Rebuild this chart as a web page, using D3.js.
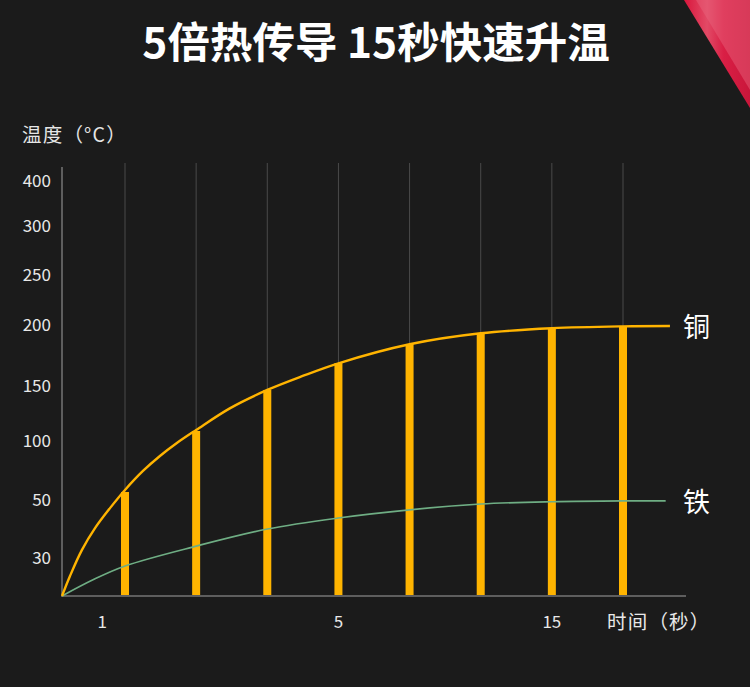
<!DOCTYPE html>
<html><head><meta charset="utf-8">
<script src="https://cdn.jsdelivr.net/npm/d3@7/dist/d3.min.js"></script>
<style>html,body{margin:0;padding:0;background:#1b1b1b;}svg{display:block;}</style>
</head><body>
<script>
// ---- data ----
const title = "5倍热传导 15秒快速升温";
const yTickValues = [30, 50, 100, 150, 200, 250, 300, 400];
const yTickPixelsRef = [558, 500, 441, 386, 325, 275, 226, 181]; // reference axis breakpoints (non-uniform axis)
const steps = [1, 2, 3, 4, 5, 6, 7, 8];
const copperBars = [56.8, 109.1, 146.4, 168.8, 184.4, 193.4, 197.5, 199.2];
// curves (step position, temperature)
const copperCurveSteps = [0, 0.127, 0.317, 0.524, 0.762, 1, 1.2525, 1.491, 1.729, 2, 2.473, 3, 3.497, 4, 5, 6, 7, 8, 8.66];
const copperCurveVals  = [0, 15.8, 32.8, 40.3, 47.2, 58.5, 74.6, 87.3, 98.3, 110, 129.7, 146.4, 158.2, 168.6, 184.2, 193.2, 197.3, 198.9, 199.2];
const ironCurveSteps = [0, 0.492, 1, 2, 3, 4, 5, 6, 7, 8, 8.6];
const ironCurveVals  = [0, 12.8, 23.7, 34.1, 40, 43.8, 46.6, 48.6, 49.4, 49.7, 49.7];
const xTickLabels = ["1", "5", "15"];
const xTickSteps = [0.64, 4, 7];
const seriesNames = ["铜", "铁"];

const W = 750, H = 687;
const font = "'Noto Sans CJK SC', 'Noto Sans', sans-serif";
const svg = d3.select("body").append("svg").attr("width", W).attr("height", H);
svg.append("rect").attr("width", W).attr("height", H).attr("fill", "#1b1b1b");

// decorative red corner
const defs = svg.append("defs");
const g1 = defs.append("linearGradient").attr("id","red").attr("x1","0").attr("y1","0").attr("x2","1").attr("y2","0");
g1.append("stop").attr("offset","0").attr("stop-color","#d9163c");
g1.append("stop").attr("offset","0.35").attr("stop-color","#e24a66");
g1.append("stop").attr("offset","0.6").attr("stop-color","#d91f45");
g1.append("stop").attr("offset","1").attr("stop-color","#c9163a");
svg.append("path").attr("d","M684,0 L750,0 L750,108 Z").attr("fill","url(#red)");
svg.append("path").attr("d","M696,0 L750,0 L750,90 Z").attr("fill","#e8677f").attr("opacity",0.45);

// scales
const x = d3.scaleLinear().domain([0, 1, 8]).range([62, 125, 623]);
const y = d3.scaleLinear().domain([0].concat(yTickValues)).range([596].concat(yTickPixelsRef));

// title
svg.append("text").attr("x", 376).attr("y", 58).attr("text-anchor","middle")
  .attr("font-family", font).attr("font-weight","bold")
  .attr("font-size", 42.5).attr("fill","#ffffff").text(title);

// y axis title
svg.append("text").attr("x", 22).attr("y", 142).attr("font-family", font).attr("font-size", 19.5)
  .attr("letter-spacing", 1.2).attr("fill","#e6e6e6").text("温度（°C）");

// vertical grid lines
svg.append("g").selectAll("line").data(steps).join("line")
  .attr("x1", d => x(d)).attr("x2", d => x(d)).attr("y1", 163).attr("y2", y(0))
  .attr("stroke","#4a4a4a").attr("stroke-width", 1);

// y axis
const yAxis = d3.axisLeft(y).tickValues(yTickValues).tickSize(0).tickPadding(11).tickFormat(d3.format("d"));
const gy = svg.append("g").attr("transform", `translate(${x(0)},0)`).call(yAxis);
gy.select(".domain").attr("stroke","#5e5e5e").attr("stroke-width",2).attr("d", `M0,167V${y(0)}`);
gy.selectAll("text").attr("font-family", font).attr("font-size", 17).attr("fill","#e8e8e8");

// x axis baseline
svg.append("line").attr("x1", x(0) - 1).attr("x2", 686).attr("y1", y(0)).attr("y2", y(0))
  .attr("stroke","#5e5e5e").attr("stroke-width", 2);

// bars
svg.append("g").selectAll("rect").data(steps).join("rect")
  .attr("x", d => x(d) - 4).attr("width", 8)
  .attr("y", (d, i) => y(copperBars[i])).attr("height", (d, i) => y(0) - y(copperBars[i]) - 1)
  .attr("fill","#ffb400");

// lines
const copperPts = copperCurveSteps.map((s, i) => [s, copperCurveVals[i]]);
const ironPts = ironCurveSteps.map((s, i) => [s, ironCurveVals[i]]);
const line = d3.line().x(d => x(d[0])).y(d => y(d[1])).curve(d3.curveCatmullRom.alpha(0.5));
svg.append("path").attr("d", line(ironPts)).attr("fill","none").attr("stroke","#6fae84").attr("stroke-width",1.6);
svg.append("path").attr("d", line(copperPts)).attr("fill","none").attr("stroke","#ffb400").attr("stroke-width",2.4);

// series labels
const lastC = copperCurveVals[copperCurveVals.length - 1];
const lastI = ironCurveVals[ironCurveVals.length - 1];
svg.append("text").attr("x", 683).attr("y", y(lastC) + 11).attr("font-family", font).attr("font-size", 27)
  .attr("fill","#ffffff").text(seriesNames[0]);
svg.append("text").attr("x", 683).attr("y", y(lastI) + 11).attr("font-family", font).attr("font-size", 27)
  .attr("fill","#ffffff").text(seriesNames[1]);

// x tick labels
svg.append("g").selectAll("text").data(xTickLabels).join("text")
  .attr("x", (d, i) => x(xTickSteps[i])).attr("y", 628).attr("text-anchor","middle")
  .attr("font-family", font).attr("font-size", 17).attr("fill","#e8e8e8").text(d => d);
svg.append("text").attr("x", 607).attr("y", 629).attr("font-family", font).attr("font-size", 19.5)
  .attr("letter-spacing", 1.2).attr("fill","#e8e8e8").text("时间（秒）");
</script>
</body></html>
